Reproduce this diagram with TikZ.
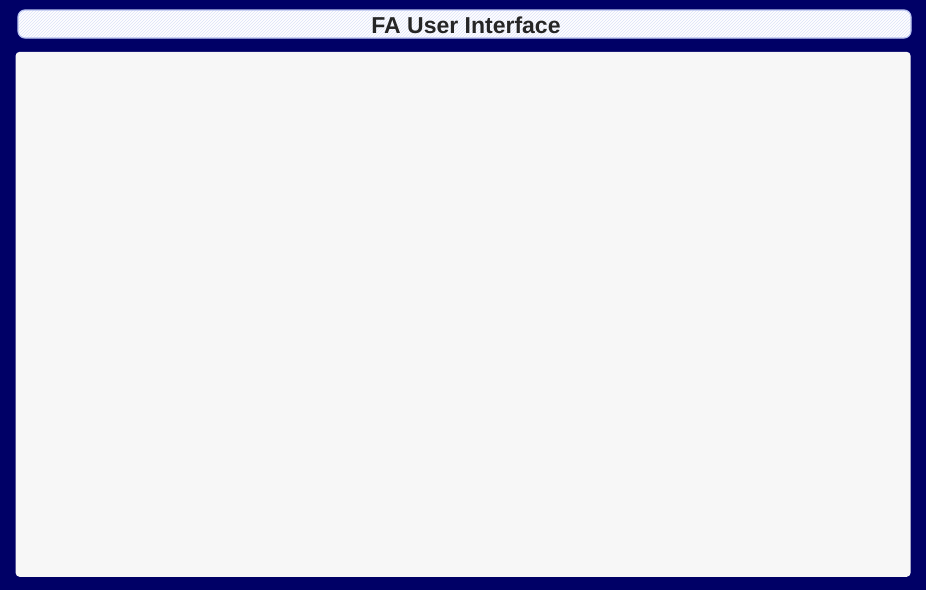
\documentclass[tikz,border=0pt]{standalone}
\usepackage{fontspec}
\setmainfont{Liberation Sans}
\usetikzlibrary{positioning,patterns}

\definecolor{navybg}{HTML}{000066}
\definecolor{panelgray}{HTML}{F7F7F7}
\definecolor{hatchblue}{HTML}{DCE2F8}
\definecolor{barline}{HTML}{B8C2F0}

\begin{document}
\begin{tikzpicture}[
    x=1pt,y=-1pt,
    titlebar/.style={rectangle,rounded corners=7pt,draw=barline,line width=1.2pt,
        preaction={fill=white},pattern=north east lines,pattern color=hatchblue,
        minimum width=893pt,minimum height=28pt,inner sep=0pt,
        font=\fontsize{23}{23}\selectfont\bfseries,text=black!85},
    panel/.style={rectangle,rounded corners=4pt,fill=panelgray,
        minimum width=895pt,minimum height=525pt,inner sep=0pt}
]

% Background
\fill[navybg] (0,0) rectangle (926,590);
\useasboundingbox (0,0) rectangle (926,590);

% Title bar
\node[titlebar] (title) at (464.5,24) {};
\node[font=\fontsize{23}{23}\selectfont\bfseries,text=black!85,inner sep=0pt]
    (titletext) at (466,25.5) {FA User Interface};

% Main area
\node[panel,below=13pt of title.south west,anchor=north west,xshift=-2pt] (main) {};

\end{tikzpicture}
\end{document}
